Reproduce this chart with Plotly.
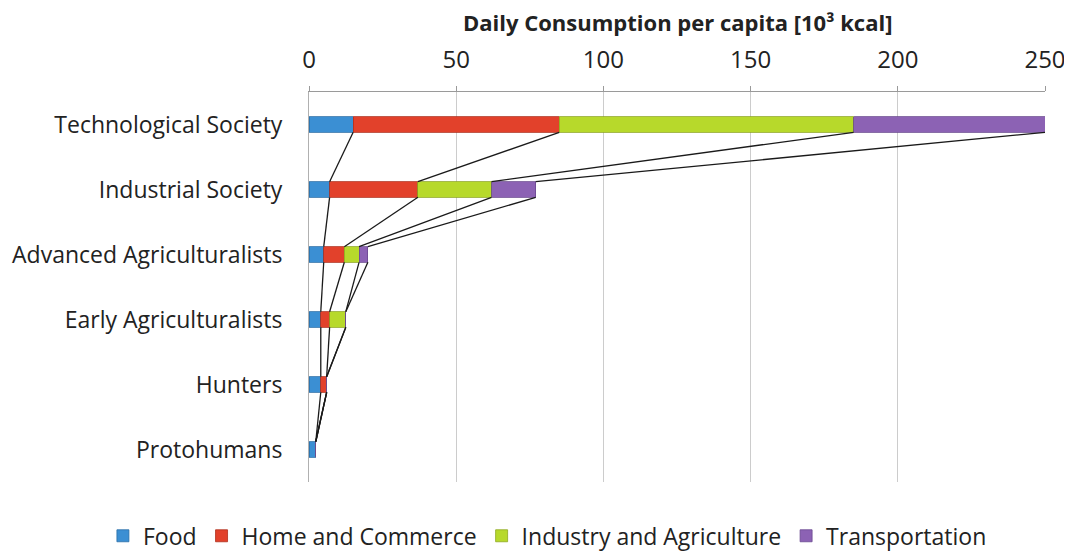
import plotly.graph_objects as go

categories = ["Technological Society", "Industrial Society", "Advanced Agriculturalists",
              "Early Agriculturalists", "Hunters", "Protohumans"]
series_names = ["Food", "Home and Commerce", "Industry and Agriculture", "Transportation"]
food = [15, 7, 5, 4, 4, 2.3]
home = [70, 30, 7, 3, 2, 0]
industry = [100, 25, 5, 5.5, 0, 0]
transport = [65, 15, 3, 0, 0, 0]
colors = ["#3b8fd3", "#e2412b", "#b7d92b", "#8c62b4"]
edge_colors = ["#2a6ea8", "#b02e1c", "#8ea81f", "#6a4890"]
x_ticks = [0, 50, 100, 150, 200, 250]

values = [food, home, industry, transport]
ypos = list(range(len(categories)))
bar_w = 0.24

fig = go.Figure()
for name, vals, col, ec in zip(series_names, values, colors, edge_colors):
    fig.add_trace(go.Bar(
        y=ypos, x=vals, name=name, orientation="h", width=bar_w,
        marker=dict(color=col, line=dict(color=ec, width=0.8)),
    ))

# series lines connecting cumulative ends between adjacent bars
cums = []
for i in range(len(categories)):
    s = 0
    row = []
    for vals in values:
        s += vals[i]
        row.append(s)
    cums.append(row)

lx, ly = [], []
for k in range(len(series_names)):
    for i in range(len(categories) - 1):
        lx += [cums[i][k], cums[i + 1][k], None]
        ly += [ypos[i] + bar_w / 2, ypos[i + 1] - bar_w / 2, None]
fig.add_trace(go.Scatter(x=lx, y=ly, mode="lines", line=dict(color="#1a1a1a", width=1.3),
                         showlegend=False, hoverinfo="skip"))

fig.update_layout(
    width=1064, height=546,
    margin=dict(l=301, r=27, t=84, b=72, autoexpand=False),
    barmode="stack",
    paper_bgcolor="white", plot_bgcolor="white",
    font=dict(family="Open Sans, sans-serif", size=20, color="#222"),
    showlegend=True,
    legend=dict(orientation="h", x=-0.28, xanchor="left", y=-0.138, yanchor="middle",
                font=dict(size=23, color="#222"), itemwidth=30, traceorder="normal"),
    xaxis=dict(side="top", range=[0, 250], tickvals=x_ticks, showgrid=True,
               gridcolor="#cccccc", gridwidth=1, showline=True, linecolor="#9a9a9a",
               ticks="outside", ticklen=5, tickcolor="#9a9a9a", zeroline=False,
               automargin=False,
               ticklabelstandoff=8, tickfont=dict(size=24, color="#222")),
    yaxis=dict(tickvals=ypos, ticktext=categories, range=[5.5, -0.5],
               showgrid=False, showline=True, linecolor="#b0b0b0", zeroline=False,
               automargin=False,
               ticks="", ticklabelstandoff=21, tickfont=dict(size=23, color="#222")),
    annotations=[dict(text="<b>Daily Consumption per capita [10³ kcal]</b>",
                      xref="paper", yref="paper", x=0.5, y=1.0, yshift=70,
                      showarrow=False, font=dict(size=22, color="#222"),
                      xanchor="center", yanchor="middle")],
)

fig.write_html("out.html")
